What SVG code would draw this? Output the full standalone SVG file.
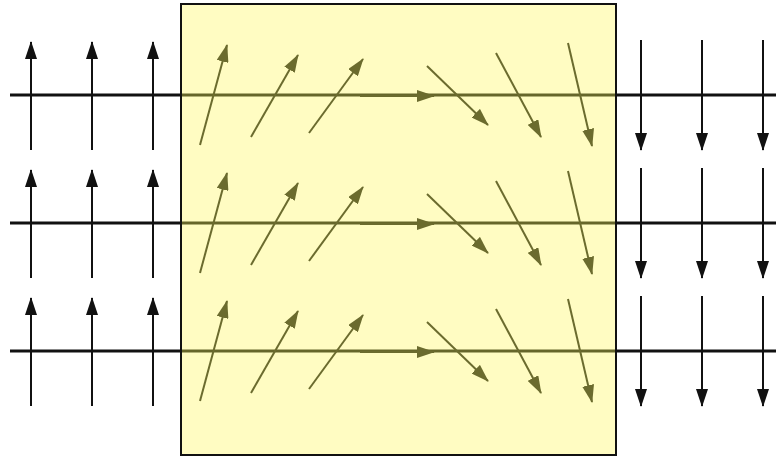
<svg xmlns="http://www.w3.org/2000/svg" width="776" height="459" viewBox="0 0 776 459">
<style>
.axis{stroke:#111;stroke-width:3;fill:none}
.axisin{stroke:#66662a;stroke-width:3;fill:none}
.blk{stroke:#111;stroke-width:2;fill:none;marker-end:url(#hb)}
.olv{stroke:#6b6b2e;stroke-width:2;fill:none;marker-end:url(#ho)}
</style>
<defs>
<marker id="hb" viewBox="0 0 18 12" refX="17" refY="6" markerWidth="18" markerHeight="12" markerUnits="userSpaceOnUse" orient="auto">
<path d="M0,0 L18,6 L0,12 Z" fill="#111"/>
</marker>
<marker id="ho" viewBox="0 0 18 12" refX="17" refY="6" markerWidth="18" markerHeight="12" markerUnits="userSpaceOnUse" orient="auto">
<path d="M0,0 L18,6 L0,12 Z" fill="#6b6b2e"/>
</marker>
<g id="rowArrows">
<path class="olv" d="M200,145 L227,45"/>
<path class="olv" d="M251,137 L298,55"/>
<path class="olv" d="M309,133 L363,59"/>
<path class="olv" d="M360,96 L434,96"/>
<path class="olv" d="M427,66 L488,125"/>
<path class="olv" d="M496,53 L541,137"/>
<path class="olv" d="M568,43 L592,146"/>
</g>
<g id="leftRow">
<path class="blk" d="M31,150 L31,42"/>
<path class="blk" d="M92,150 L92,42"/>
<path class="blk" d="M153,150 L153,42"/>
</g>
<g id="rightRow">
<path class="blk" d="M641,40 L641,150"/>
<path class="blk" d="M702,40 L702,150"/>
<path class="blk" d="M763,40 L763,150"/>
</g>
</defs>
<g id="box">
<rect x="181" y="4" width="435" height="451" fill="#fffcc2" stroke="#111" stroke-width="2"/>
</g>
<g id="connectors">
<path class="axis" d="M10,95 L181,95 M616,95 L776,95"/>
<path class="axis" d="M10,223 L181,223 M616,223 L776,223"/>
<path class="axis" d="M10,351 L181,351 M616,351 L776,351"/>
<path class="axisin" d="M182,95 L615,95 M182,223 L615,223 M182,351 L615,351"/>
<use href="#leftRow"/>
<use href="#leftRow" y="128"/>
<use href="#leftRow" y="256"/>
<use href="#rightRow"/>
<use href="#rightRow" y="128"/>
<use href="#rightRow" y="256"/>
<use href="#rowArrows"/>
<use href="#rowArrows" y="128"/>
<use href="#rowArrows" y="256"/>
</g>
</svg>
